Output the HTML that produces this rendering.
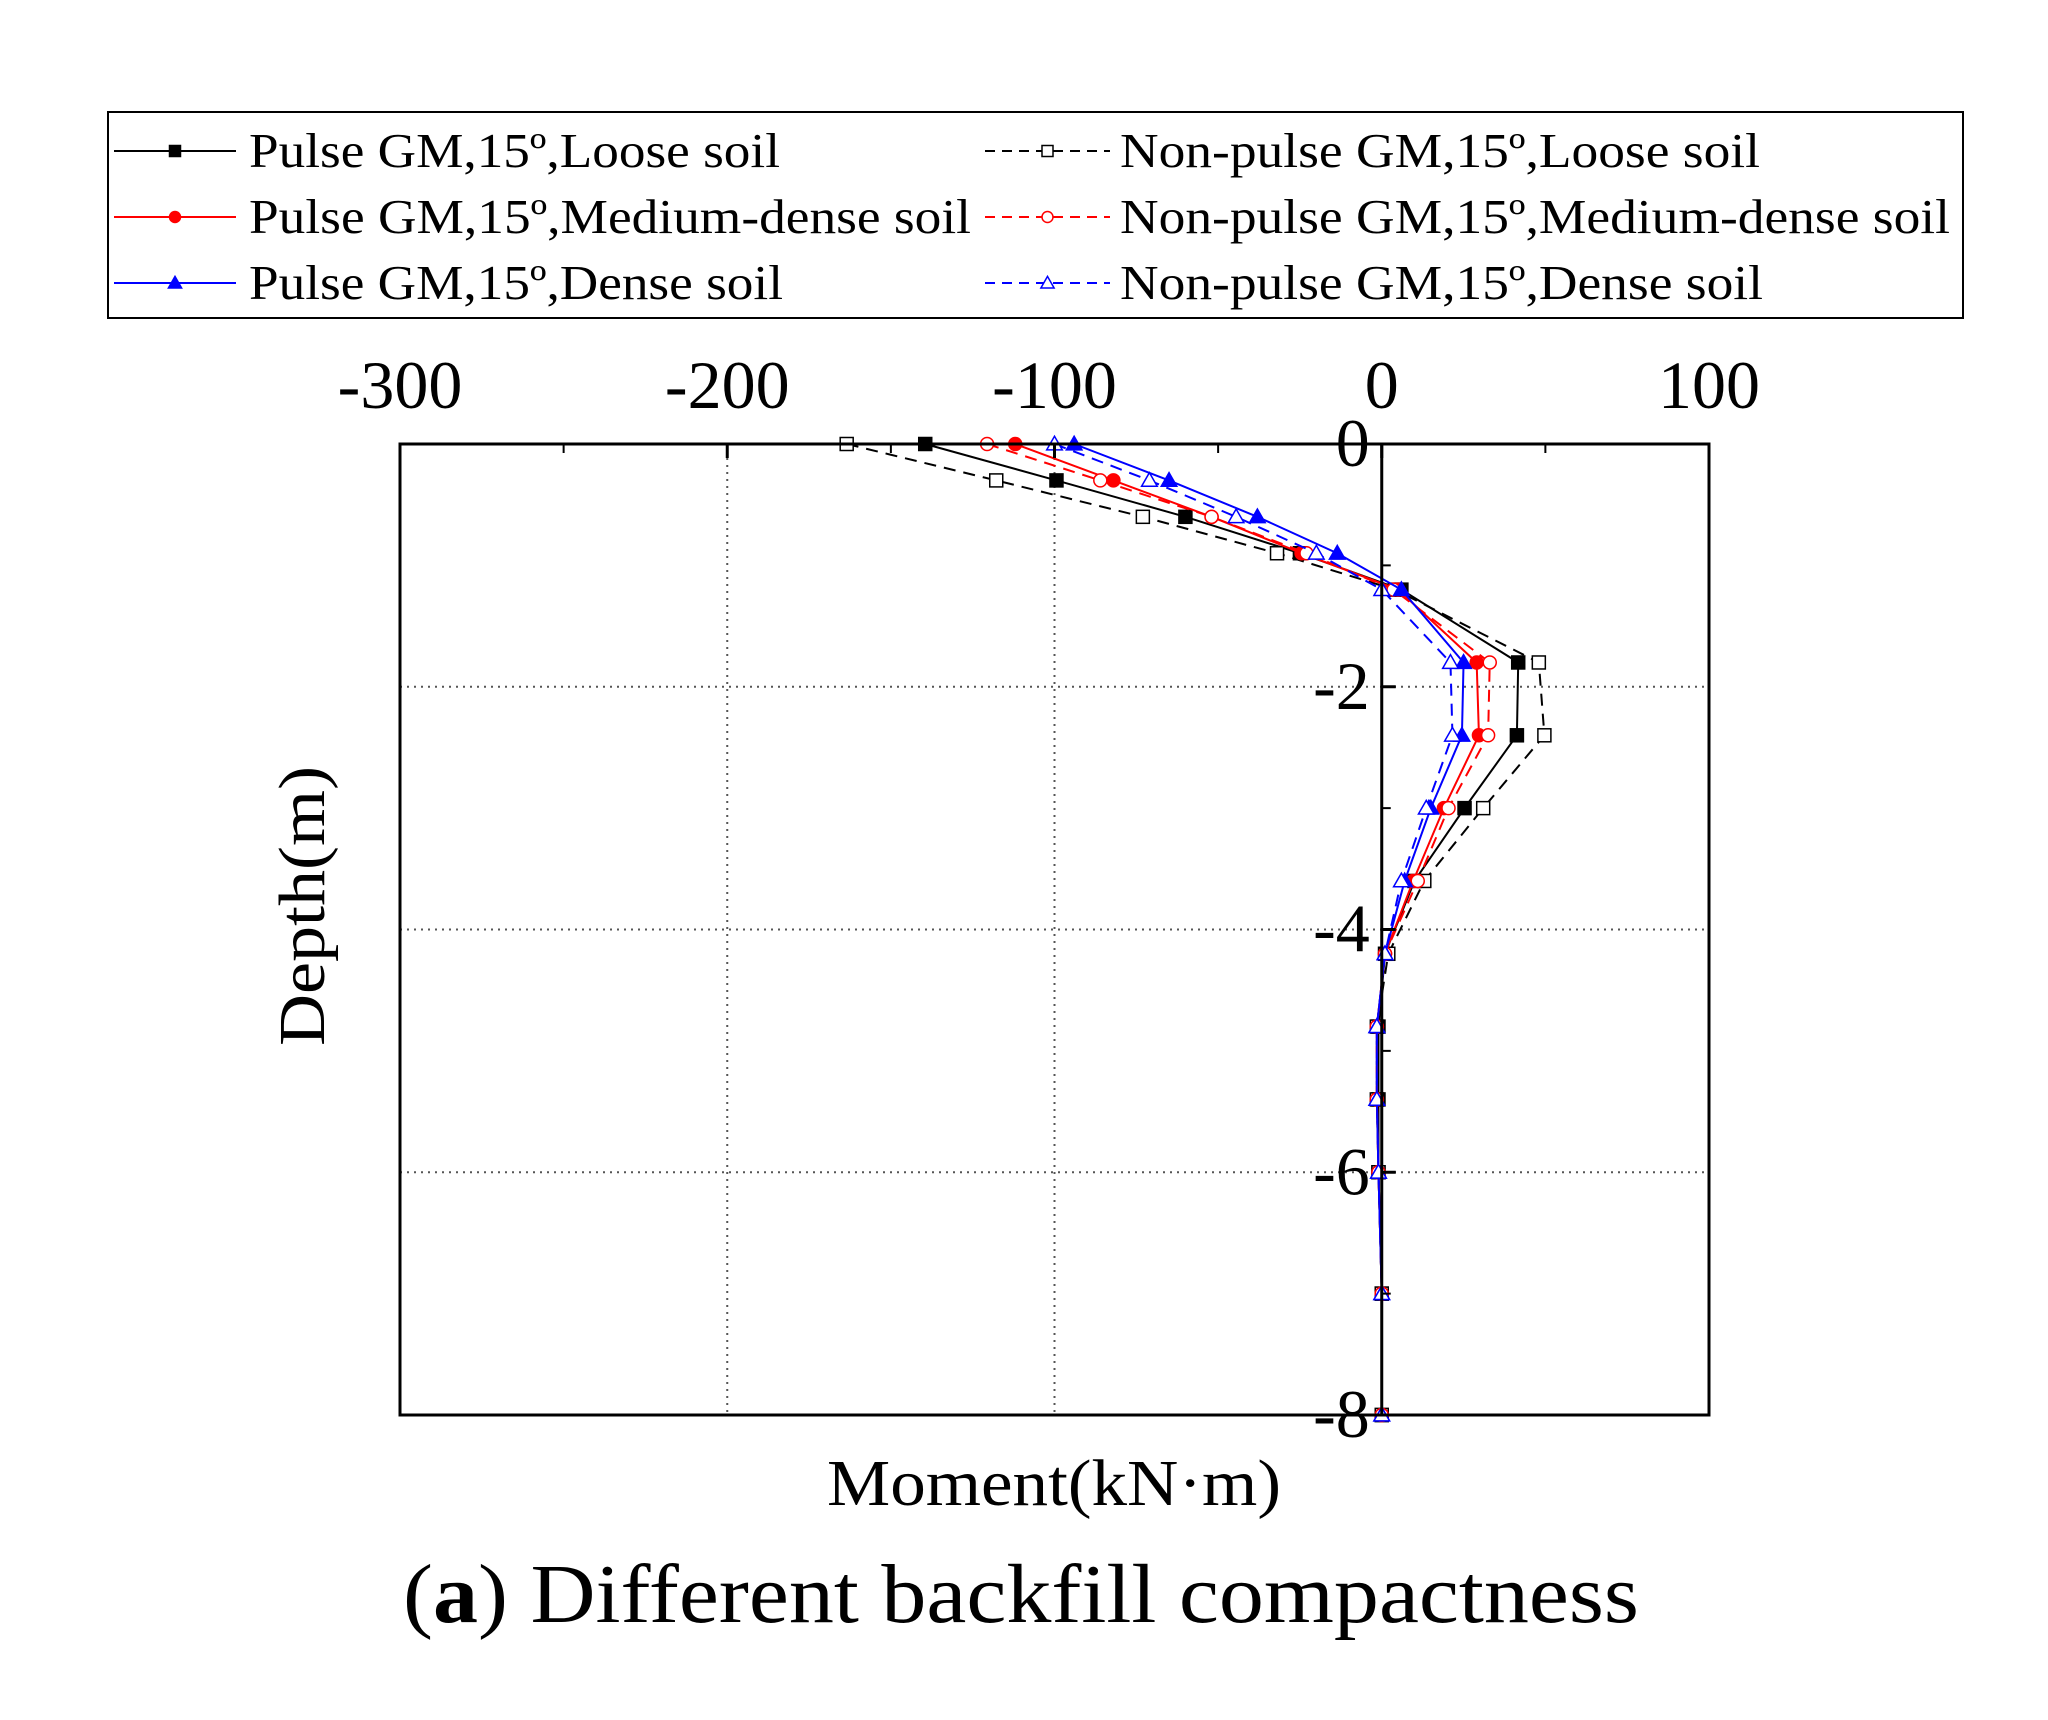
<!DOCTYPE html>
<html><head><meta charset="utf-8"><style>
body{margin:0;background:#fff}
svg{display:block}
text{font-family:"Liberation Serif",serif;fill:#000}
</style></head><body>
<svg id="chart" width="2048" height="1720" viewBox="0 0 2048 1720" xmlns="http://www.w3.org/2000/svg">
<g id="grid"></g>
<g id="series"></g>
<g id="axes"></g>
<g id="legend">
<rect x="108" y="112" width="1855" height="206" fill="none" stroke="#000" stroke-width="2"/>
</g>
<text x="309" y="906" font-size="66" text-anchor="middle" textLength="280" lengthAdjust="spacingAndGlyphs" transform="rotate(-90 309 906)" dominant-baseline="middle">Depth(m)</text>
<text x="1054" y="1505" font-size="66" text-anchor="middle" textLength="454" lengthAdjust="spacingAndGlyphs">Moment(kN·m)</text>
<text x="1021" y="1622" font-size="84" text-anchor="middle" textLength="1236" lengthAdjust="spacingAndGlyphs">(<tspan font-weight="bold">a</tspan>) Different backfill compactness</text>
</svg>
<script>
const depths=[0,-0.3,-0.6,-0.9,-1.2,-1.8,-2.4,-3.0,-3.6,-4.2,-4.8,-5.4,-6.0,-7.0,-8.0];
const pulseLoose=[-139.5,-99.4,-60,-25,6,41.7,41.3,25.3,10,1,-1,-1,-1,0,0];
const nonPulseLoose=[-163.5,-117.8,-73,-32,4,48,49.7,31,13,2,-1.5,-1.5,-1,0,0];
const pulseMedium=[-112,-82,-52,-24.5,5,29,29.7,19,9.6,1,-1.5,-1.5,-1,0,0];
const nonPulseMedium=[-120.6,-86,-52,-23,3.6,33,32.5,20.4,11,1,-1.5,-1.5,-1,0,0];
const pulseDense=[-94,-65,-38,-13.6,6,25,24.5,15,7,1,-1.5,-1.5,-1,0,0];
const nonPulseDense=[-100,-71,-44.5,-20,0,21,21.6,13.6,6,1,-1.5,-1.5,-1,0,0];
const xTicks=[-300,-200,-100,0,100];
const yTicks=[0,-2,-4,-6,-8];
const seriesNames=["Pulse GM,15º,Loose soil","Non-pulse GM,15º,Loose soil","Pulse GM,15º,Medium-dense soil","Non-pulse GM,15º,Medium-dense soil","Pulse GM,15º,Dense soil","Non-pulse GM,15º,Dense soil"];
const nameWidths=[531,640,722,830,534,643];

const L=400,R=1709,T=444,B=1415;
const X=v=>L+(v+300)/400*(R-L);
const Y=v=>T+(-v)/8*(B-T);
const NS="http://www.w3.org/2000/svg";
function mk(tag,attrs,parent){const e=document.createElementNS(NS,tag);for(const k in attrs)e.setAttribute(k,attrs[k]);parent.appendChild(e);return e;}
const grid=document.getElementById('grid'),axes=document.getElementById('axes'),sg=document.getElementById('series'),lg=document.getElementById('legend');

[-200,-100].forEach(v=>{const l=mk('line',{x1:X(v),x2:X(v),y1:T,y2:B,stroke:'#555','stroke-width':2,'stroke-dasharray':'2 5'},grid);

});
[-2,-4,-6].forEach(v=>{const l=mk('line',{x1:L,x2:R,y1:Y(v),y2:Y(v),stroke:'#555','stroke-width':2,'stroke-dasharray':'2 5'},grid);

});

const frame=mk('rect',{x:L,y:T,width:R-L,height:B-T,fill:'none',stroke:'#000','stroke-width':3},axes);


const zl=mk('line',{x1:X(0),x2:X(0),y1:T,y2:B,stroke:'#000','stroke-width':3},axes);


xTicks.forEach(v=>{const t=mk('text',{x:X(v),y:408,'font-size':68,'text-anchor':'middle'},axes);t.textContent=v;


const tk=mk('line',{x1:X(v),x2:X(v),y1:T,y2:T+14,stroke:'#000','stroke-width':3},axes);

});
for(let v=-250;v<100;v+=100){const tk=mk('line',{x1:X(v),x2:X(v),y1:T,y2:T+9,stroke:'#000','stroke-width':2},axes);

}
yTicks.forEach(v=>{const t=mk('text',{x:X(0)-12,y:Y(v)+22,'font-size':68,'text-anchor':'end'},axes);t.textContent=v;


const tk=mk('line',{x1:X(0),x2:X(0)+14,y1:Y(v),y2:Y(v),stroke:'#000','stroke-width':3},axes);

});
[-1,-3,-5,-7].forEach(v=>{const tk=mk('line',{x1:X(0),x2:X(0)+9,y1:Y(v),y2:Y(v),stroke:'#000','stroke-width':2},axes);

});

function marker(g,shape,filled,color,x,y,s){
 const fill=filled?color:'#fff';let m;
 if(shape==='sq')m=mk('rect',{x:x-s/2,y:y-s/2,width:s,height:s,fill:fill,stroke:color,'stroke-width':1.5},g);
 else if(shape==='ci')m=mk('circle',{cx:x,cy:y,r:s/2,fill:fill,stroke:color,'stroke-width':1.5},g);
 else m=mk('polygon',{points:`${x},${y-s*0.6} ${x-s*0.6},${y+s*0.45} ${x+s*0.6},${y+s*0.45}`,fill:fill,stroke:color,'stroke-width':1.5},g);
 return m;}
const defs=[
 [pulseLoose,'#000','sq',true,false,'pulse-loose'],
 [nonPulseLoose,'#000','sq',false,true,'nonpulse-loose'],
 [pulseMedium,'#f00','ci',true,false,'pulse-medium'],
 [nonPulseMedium,'#f00','ci',false,true,'nonpulse-medium'],
 [pulseDense,'#00f','tr',true,false,'pulse-dense'],
 [nonPulseDense,'#00f','tr',false,true,'nonpulse-dense']];
defs.forEach((d,i)=>{
 const [vals,c,sh,filled,dash,name]=d;
 const g=mk('g',{},sg);
 
 
 const pts=vals.map((v,j)=>X(v)+','+Y(depths[j])).join(' ');
 const pl=mk('polyline',{points:pts,fill:'none',stroke:c,'stroke-width':2,'stroke-dasharray':dash?'12 8':'none'},g);
 
 
 vals.forEach((v,j)=>{const m=marker(g,sh,filled,c,X(v),Y(depths[j]),13);
  
  });
 const col=i%2,row=Math.floor(i/2);
 const lx1=col?985:114,lx2=col?1110:236,tx=col?1120:249,ly=151+row*66;
 const lgi=mk('g',{},lg);
 
 
 mk('line',{x1:lx1,x2:lx2,y1:ly,y2:ly,stroke:c,'stroke-width':2,'stroke-dasharray':dash?'10 7':'none'},lgi);
 marker(lgi,sh,filled,c,(lx1+lx2)/2,ly,11);
 const t=mk('text',{x:tx,y:ly+16,'font-size':49,textLength:nameWidths[i],lengthAdjust:'spacingAndGlyphs'},lgi);t.textContent=seriesNames[i];
});
</script>
</body></html>
